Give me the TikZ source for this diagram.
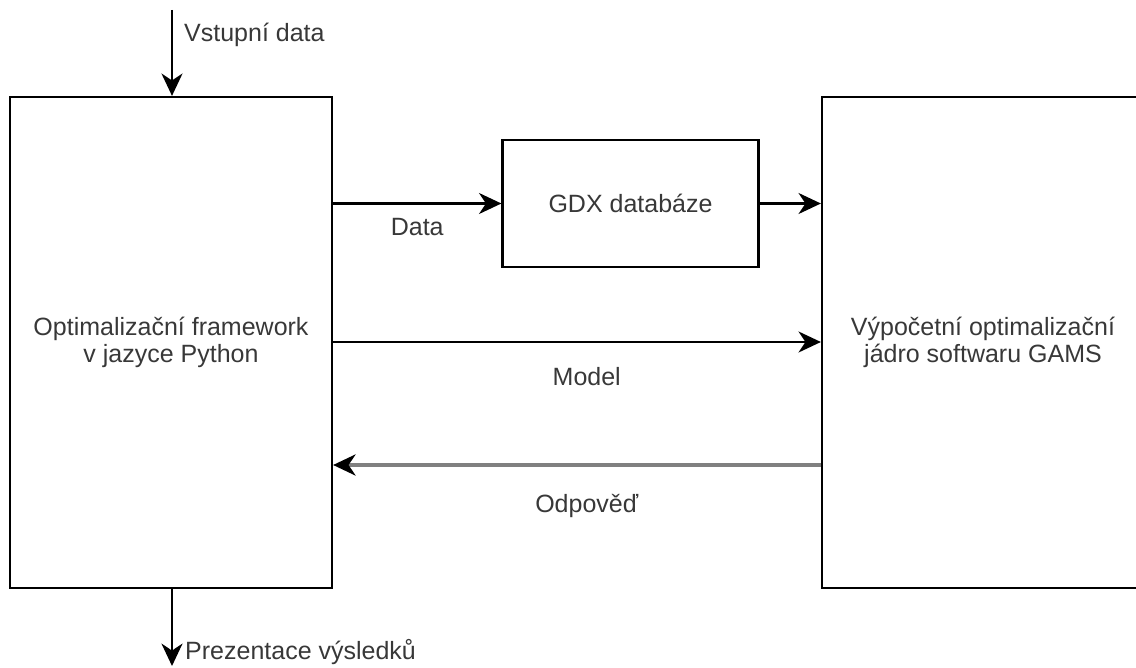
\documentclass[tikz,border=0pt]{standalone}
\usepackage{fontspec}
\setmainfont{Liberation Sans}
\usetikzlibrary{arrows.meta}

\begin{document}
\begin{tikzpicture}[x=1pt,y=-1pt,
sipka/.style={-{Stealth[length=16pt 0,width=15pt 0,inset=5pt 0,scale=1.4,color=black]},line width=2.2pt},
blok/.style={rectangle,draw=black,line width=2.2pt,inner sep=0pt,align=center,
  text=black!78,font=\fontsize{25}{27}\selectfont},
popis/.style={text=black!78,inner sep=0pt,font=\fontsize{25}{27}\selectfont}]

\useasboundingbox (0,0) rectangle (1136,668);

\node[blok,minimum width=322pt,minimum height=491pt](python) at (171,342.5)
  {Optimalizační framework\\v jazyce Python};
\node[blok,minimum width=322pt,minimum height=491pt](gams) at (983,342.5)
  {Výpočetní optimalizační\\jádro softwaru GAMS};
\node[blok,minimum width=256pt,minimum height=127pt](gdx) at (630.5,203.5){GDX databáze};

\coordinate (vstup) at (172,10);
\coordinate (vystup) at (172,666);

\node[popis,anchor=west](vstup-t) at (184,35){Vstupní data};
\node[popis,anchor=west](vystup-t) at (185,652){Prezentace výsledků};

\begin{scope}[sipka]
\draw (vstup)--(vstup|-python.north);
\draw (vystup|-python.south)--(vystup);
\draw (python.east|-gdx.west)--(gdx.west) node[popis,pos=.5, below=14pt]{Data};
\draw (gdx.east)--(gams.west|-gdx.east);
\draw (python.east|-0,342)--(gams.west|-0,342) node[popis,pos=.52, below=24pt]{Model};
\draw[draw=black!50, line width=4pt] (gams.west|-0,465)--(python.east|-0,465)
  node[popis,pos=.48, below=27pt]{Odpověď};
\end{scope}

\end{tikzpicture}
\end{document}
